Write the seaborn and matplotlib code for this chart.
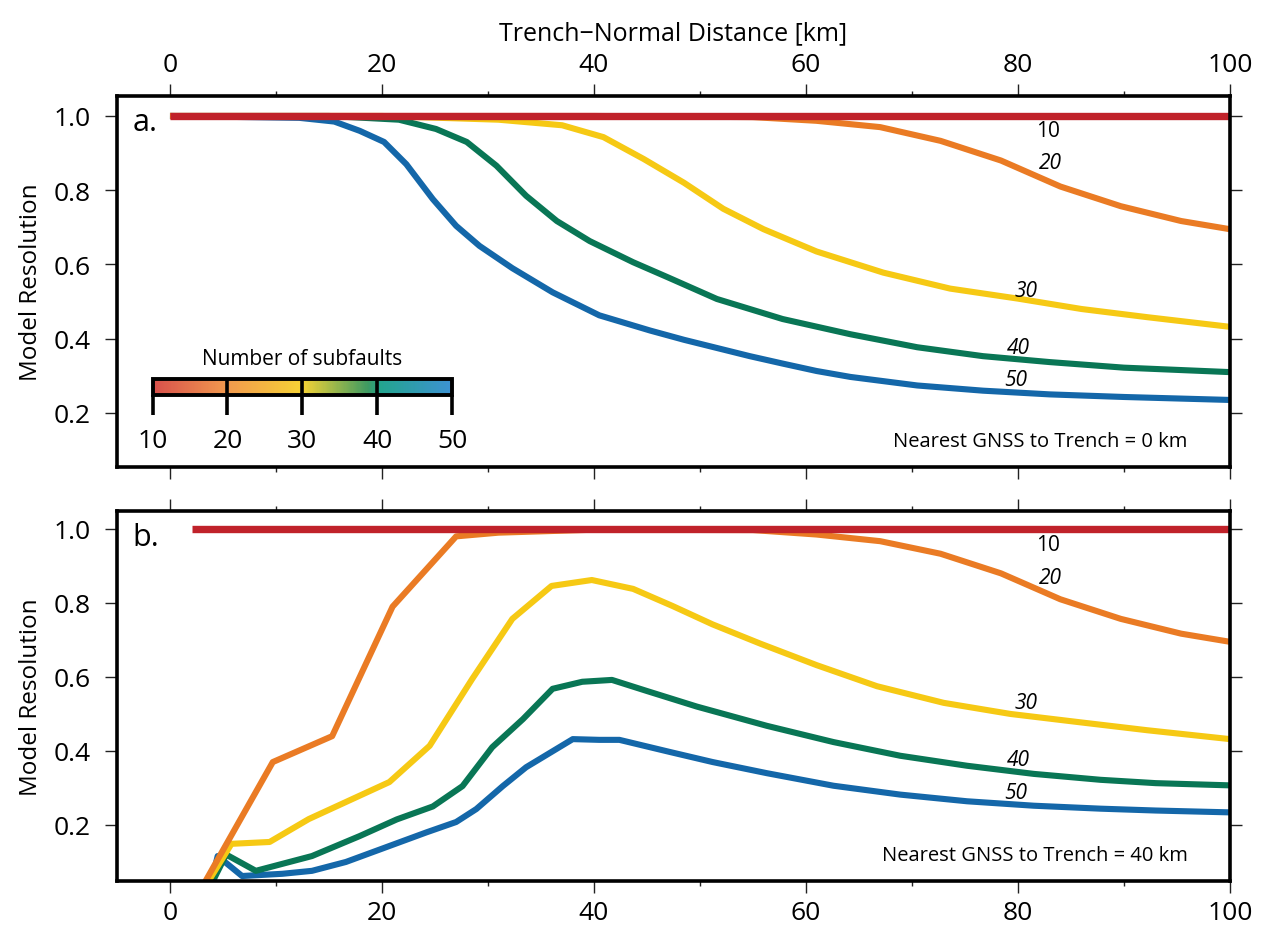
import numpy as np
import pandas as pd
import matplotlib
matplotlib.use("Agg")
import matplotlib.pyplot as plt
import seaborn as sns
from matplotlib.colors import LinearSegmentedColormap, Normalize
from matplotlib.cm import ScalarMappable
from matplotlib.ticker import MultipleLocator

# ---------------- data ----------------
subfaults = [10, 20, 30, 40, 50]

# Panel a: nearest GNSS to trench = 0 km
a10_x = [0, 25, 50, 75, 100]
a10_y = [1.0, 1.0, 1.0, 1.0, 1.0]
a20_x = [0, 20, 40, 55, 61, 67, 72.7, 78.4, 84, 89.7, 95.4, 100]
a20_y = [1.0, 1.0, 1.0, 0.997, 0.987, 0.97, 0.933, 0.88, 0.81, 0.757, 0.717, 0.695]
a30_x = [0, 20, 31, 37, 40.9, 44.7, 48.5, 52.2, 56, 61, 67.3, 73.6, 80, 86, 92.2, 100]
a30_y = [1.0, 1.0, 0.99, 0.975, 0.943, 0.884, 0.82, 0.75, 0.695, 0.635, 0.578, 0.535, 0.508, 0.48, 0.458, 0.432]
a40_x = [0, 15, 21.6, 25.1, 28, 30.8, 33.6, 36.5, 39.6, 43.7, 47, 51.6, 57.8, 64.2, 70.5, 76.7, 83, 90, 100]
a40_y = [1.0, 1.0, 0.99, 0.965, 0.93, 0.866, 0.785, 0.717, 0.663, 0.606, 0.565, 0.507, 0.453, 0.412, 0.377, 0.353, 0.337, 0.322, 0.31]
a50_x = [0, 12.2, 15.5, 17.9, 20.2, 22.3, 24.8, 27, 29.2, 32.3, 36.1, 40.5, 45.3, 48.5, 51.6, 54.7, 57.8, 61, 64.2, 70.5, 76.7, 83, 90, 100]
a50_y = [1.0, 0.995, 0.985, 0.96, 0.93, 0.87, 0.776, 0.704, 0.65, 0.59, 0.525, 0.463, 0.422, 0.397, 0.375, 0.353, 0.333, 0.313, 0.297, 0.274, 0.26, 0.25, 0.243, 0.235]

# Panel b: nearest GNSS to trench = 40 km
b10_x = [2.1, 25, 50, 75, 100]
b10_y = [1.0, 1.0, 1.0, 1.0, 1.0]
b20_x = [2.4, 9.7, 15.3, 21, 27, 31, 40, 55, 61, 67, 72.7, 78.4, 84, 89.7, 95.4, 100]
b20_y = [0.0, 0.37, 0.44, 0.79, 0.98, 0.99, 0.998, 0.997, 0.985, 0.967, 0.933, 0.88, 0.81, 0.757, 0.717, 0.695]
b30_x = [2.6, 5.8, 9.4, 13.1, 20.7, 24.5, 28.5, 32.3, 36, 39.8, 43.7, 47.4, 51.2, 55.7, 61, 66.7, 73, 79.3, 86, 92.2, 100]
b30_y = [0.0, 0.149, 0.154, 0.216, 0.316, 0.414, 0.594, 0.757, 0.846, 0.862, 0.838, 0.792, 0.742, 0.69, 0.632, 0.575, 0.53, 0.5, 0.477, 0.456, 0.432]
b40_x = [3.2, 5.3, 8.1, 13.4, 17.9, 21.4, 24.8, 27.6, 30.4, 33.3, 36.1, 38.9, 41.7, 45, 49.7, 56.3, 62.6, 68.9, 75.2, 81.5, 87.8, 93, 100]
b40_y = [0.0, 0.12, 0.076, 0.116, 0.17, 0.215, 0.25, 0.305, 0.41, 0.486, 0.568, 0.587, 0.592, 0.562, 0.52, 0.468, 0.424, 0.387, 0.36, 0.338, 0.322, 0.313, 0.307]
b50_x = [3.5, 4.5, 6.8, 10.6, 13.4, 16.6, 20.4, 24.2, 27, 28.9, 31.4, 33.6, 38, 40.5, 42.4, 47.2, 51.2, 56.3, 62.6, 68.9, 75.2, 81.5, 87.8, 93, 100]
b50_y = [0.0, 0.116, 0.062, 0.068, 0.076, 0.1, 0.14, 0.18, 0.208, 0.243, 0.305, 0.356, 0.432, 0.43, 0.43, 0.397, 0.37, 0.34, 0.306, 0.282, 0.264, 0.252, 0.244, 0.239, 0.234]

# curve label positions (distance, resolution)
lab_a_x = [82.8, 83.1, 80.8, 80.0, 79.8]
lab_a_y = [0.962, 0.876, 0.531, 0.377, 0.291]
lab_b_x = [82.8, 83.1, 80.8, 80.0, 79.8]
lab_b_y = [0.959, 0.870, 0.532, 0.376, 0.289]

colors = {10: "#c0222a", 20: "#ea7b24", 30: "#f6c914", 40: "#097655", 50: "#1467a9"}

# ---------------- style ----------------
sns.set_style("white")
plt.rcParams["font.family"] = ["Open Sans", "DejaVu Sans"]
plt.rcParams["text.color"] = "black"
plt.rcParams["axes.labelcolor"] = "black"
plt.rcParams["xtick.color"] = "black"
plt.rcParams["ytick.color"] = "black"

fig = plt.figure(figsize=(12.66, 9.28), dpi=100)
ax_a = fig.add_axes([0.0924, 0.4957, 0.8791, 0.3998])
ax_b = fig.add_axes([0.0924, 0.0496, 0.8791, 0.3987])


def draw_panel(ax, series, labx, laby, note, letter, ylim):
    # draw order: 50 first, 10 last (on top)
    for sub in [50, 40, 30, 20, 10]:
        xs, ys = series[sub]
        df = pd.DataFrame({"d": xs, "r": ys})
        sns.lineplot(data=df, x="d", y="r", ax=ax, color=colors[sub],
                     lw=5.3 if sub == 10 else 4.4, sort=False, estimator=None,
                     solid_capstyle="butt")
    for i, sub in enumerate(subfaults):
        ax.text(labx[i], laby[i], str(sub), fontsize=15, ha="center", va="center",
                style="normal" if sub == 10 else "italic", color="black")
    ax.text(0.962, 0.07, note, transform=ax.transAxes, ha="right", va="center",
            fontsize=14.5, color="black")
    ax.text(0.014, 0.93, letter, transform=ax.transAxes, ha="left", va="center",
            fontsize=22, color="black")
    ax.set_xlim(-5, 100)
    ax.set_ylim(*ylim)
    ax.xaxis.set_major_locator(MultipleLocator(20))
    ax.xaxis.set_minor_locator(MultipleLocator(10))
    ax.yaxis.set_major_locator(MultipleLocator(0.2))
    ax.yaxis.set_major_formatter(matplotlib.ticker.FormatStrFormatter("%.1f"))
    for s in ax.spines.values():
        s.set_linewidth(2.6)
        s.set_color("black")
    ax.tick_params(axis="both", which="major", direction="out", length=8.6, width=1.0,
                   top=True, right=True, bottom=True, left=True, labelsize=19,
                   color="#222222", labelcolor="black")
    ax.tick_params(axis="x", which="major", pad=5)
    ax.tick_params(axis="y", which="major", pad=10)
    ax.tick_params(axis="x", which="minor", direction="out", length=3.8, width=1.0,
                   top=True, bottom=True, color="#222222")
    ax.set_ylabel("Model Resolution", fontsize=17.5, labelpad=8, color="black")


draw_panel(ax_a,
           {10: (a10_x, a10_y), 20: (a20_x, a20_y), 30: (a30_x, a30_y),
            40: (a40_x, a40_y), 50: (a50_x, a50_y)},
           lab_a_x, lab_a_y, "Nearest GNSS to Trench = 0 km", "a.", (0.0544, 1.0539))
draw_panel(ax_b,
           {10: (b10_x, b10_y), 20: (b20_x, b20_y), 30: (b30_x, b30_y),
            40: (b40_x, b40_y), 50: (b50_x, b50_y)},
           lab_b_x, lab_b_y, "Nearest GNSS to Trench = 40 km", "b.", (0.0486, 1.0486))

ax_a.tick_params(axis="x", which="both", labeltop=True, labelbottom=False)
ax_a.xaxis.set_label_position("top")
ax_a.set_xlabel("Trench\u2212Normal Distance [km]", fontsize=18, labelpad=9, color="black")
ax_b.tick_params(axis="x", which="both", labeltop=False, labelbottom=True)
ax_b.set_xlabel("")

# ---------------- colour bar inset ----------------
cb_colors = [(0.0, "#d8504c"), (0.25, "#f29a4e"), (0.5, "#f6d235"),
             (0.72, "#3e9a62"), (0.76, "#23a48e"), (1.0, "#3d92d2")]
cmap = LinearSegmentedColormap.from_list("subf", cb_colors)
cax = ax_a.inset_axes([0.032, 0.194, 0.269, 0.043])
sm = ScalarMappable(norm=Normalize(10, 50), cmap=cmap)
cb = fig.colorbar(sm, cax=cax, orientation="horizontal", ticks=subfaults)
cb.outline.set_linewidth(2.8)
cb.outline.set_edgecolor("black")
cb.ax.tick_params(axis="x", direction="out", length=14.5, width=2.6, labelsize=19, pad=9,
                  color="black", labelcolor="black")
for v in [20, 30, 40]:
    cax.axvline(v, color="black", lw=2.6)
cax.set_title("Number of subfaults", fontsize=15, pad=11, color="black")

fig.savefig("out.png", dpi=100)
